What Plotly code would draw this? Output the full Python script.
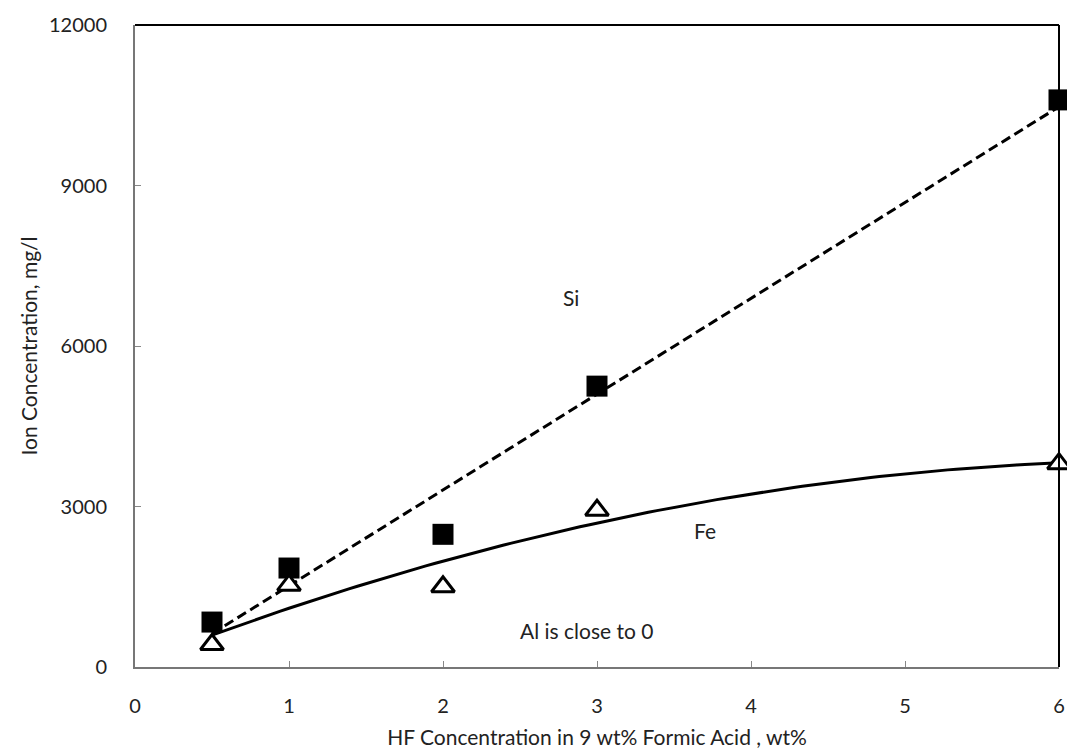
import numpy as np
import plotly.graph_objects as go

hf = [0.5, 1, 2, 3, 6]
si = [840, 1850, 2480, 5250, 10600]
fe = [420, 1530, 1500, 2930, 3800]
x_ticks = [0, 1, 2, 3, 4, 5, 6]
y_ticks = [0, 3000, 6000, 9000, 12000]
y_tick_text = ["0", "3000", "6000", "9000", "12000"]

FONT = "Lato"

xs = np.linspace(min(hf), max(hf), 100)
si_fit = np.polyval(np.polyfit(hf, si, 1), xs)
fe_fit = np.polyval(np.polyfit(hf, fe, 2), xs)

fig = go.Figure()
fig.add_trace(go.Scatter(x=xs, y=si_fit, mode="lines",
                         line=dict(color="black", width=3, dash="10px,5px"),
                         showlegend=False, hoverinfo="skip"))
fig.add_trace(go.Scatter(x=xs, y=fe_fit, mode="lines",
                         line=dict(color="black", width=3),
                         showlegend=False, hoverinfo="skip"))
fig.add_trace(go.Scatter(x=hf, y=si, mode="markers", name="Si",
                         marker=dict(symbol="square", size=21, color="black",
                                     line=dict(width=0)),
                         showlegend=False, cliponaxis=False))
fig.add_trace(go.Scatter(x=hf, y=fe, mode="markers", name="Fe",
                         marker=dict(symbol="triangle-up", size=20, color="white",
                                     line=dict(color="black", width=3)),
                         showlegend=False, cliponaxis=False))

fig.update_layout(
    width=1067, height=755,
    margin=dict(l=135, r=8, t=25, b=88, autoexpand=False),
    paper_bgcolor="white", plot_bgcolor="white",
    font=dict(family=FONT, size=20, color="#222"),
    xaxis=dict(range=[0, 6], tickvals=x_ticks, ticks="inside", ticklen=6,
               tickcolor="#888", showline=True, linecolor="#777", linewidth=2,
               showgrid=False, zeroline=False, ticklabelstandoff=20,
               automargin=False,
               title=dict(text="HF Concentration in 9 wt% Formic Acid , wt%",
                          font=dict(size=21), standoff=14)),
    yaxis=dict(range=[0, 12000], tickvals=y_ticks, ticktext=y_tick_text,
               ticks="inside", ticklen=6,
               tickcolor="#888", showline=True, linecolor="#777", linewidth=2,
               showgrid=False, zeroline=False, ticklabelstandoff=22,
               automargin=False,
               title=dict(text="Ion Concentration, mg/l", font=dict(size=21),
                          standoff=6)),
    annotations=[
        dict(x=2.83, y=6900, text="Si", showarrow=False, font=dict(size=21)),
        dict(x=3.7, y=2550, text="Fe", showarrow=False, font=dict(size=21)),
        dict(x=2.93, y=690, text="Al is close to 0", showarrow=False,
             font=dict(size=21)),
    ],
    shapes=[
        dict(type="line", xref="paper", yref="paper", x0=0, x1=1, y0=1, y1=1,
             line=dict(color="black", width=2)),
        dict(type="line", xref="paper", yref="paper", x0=1, x1=1, y0=0, y1=1,
             line=dict(color="black", width=2)),
    ],
)

fig.write_html("out.html")
